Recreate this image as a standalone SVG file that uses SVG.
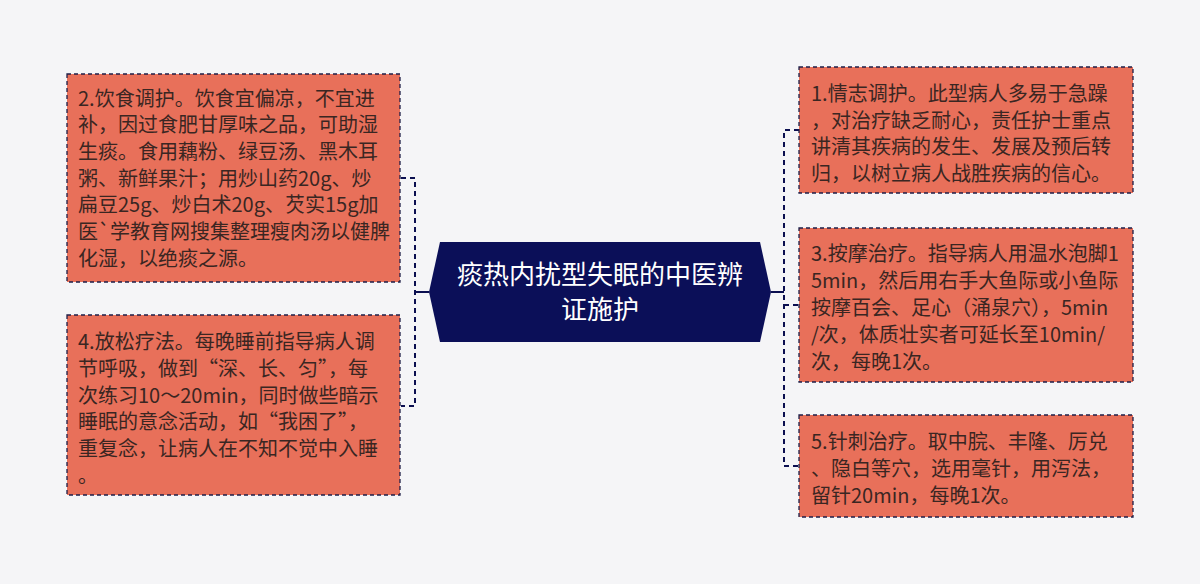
<svg xmlns="http://www.w3.org/2000/svg" width="1200" height="584" viewBox="0 0 1200 584">
<style>
.bg{fill:#f5f5f7}
.box{fill:#e8705a;stroke:#1e1e48;stroke-width:1.3;stroke-dasharray:4 3}
.t{font-family:"Noto Sans CJK SC","Noto Sans",sans-serif;font-size:20px;fill:#3a2622}
.ct{font-family:"Noto Sans CJK SC","Noto Sans",sans-serif;font-size:26px;fill:#ffffff}
.dash{fill:none;stroke:#0b0f50;stroke-width:2;stroke-dasharray:5 4}
.solid{fill:none;stroke:#0b0f50;stroke-width:2}
</style>
<rect class="bg" x="0" y="0" width="1200" height="584"/>
<g id="connectors">
<path class="dash" d="M401 178 H415 V406 H401"/>
<path class="solid" d="M415 292 H429"/>
<path class="dash" d="M799 130 H784 V466 H799"/>
<path class="dash" d="M784 305 H799"/>
<path class="solid" d="M771 292 H784"/>
</g>
<g id="center">
<polygon points="440,242 760,242 771,292 760,342 440,342 429,292" fill="#0b0f58"/>
<text class="ct" text-anchor="middle"><tspan x="600" y="284">痰热内扰型失眠的中医辨</tspan><tspan x="600" y="319">证施护</tspan></text>
</g>
<g id="node2">
<rect class="box" x="67" y="74" width="333" height="208"/>
<text class="t"><tspan x="78" y="105.5">2.饮食调护。饮食宜偏凉，不宜进</tspan><tspan x="78" y="132.2">补，因过食肥甘厚味之品，可助湿</tspan><tspan x="78" y="158.9">生痰。食用藕粉、绿豆汤、黑木耳</tspan><tspan x="78" y="185.6">粥、新鲜果汁；用炒山药20g、炒</tspan><tspan x="78" y="212.3">扁豆25g、炒白术20g、芡实15g加</tspan><tspan x="78" y="239">医`学教育网搜集整理瘦肉汤以健脾</tspan><tspan x="78" y="265.7">化湿，以绝痰之源。</tspan></text>
</g>
<g id="node4">
<rect class="box" x="67" y="315" width="333" height="180"/>
<text class="t"><tspan x="78" y="349.3">4.放松疗法。每晚睡前指导病人调</tspan><tspan x="78" y="376">节呼吸，做到“深、长、匀”，每</tspan><tspan x="78" y="402.7">次练习10～20min，同时做些暗示</tspan><tspan x="78" y="429.4">睡眠的意念活动，如“我困了”，</tspan><tspan x="78" y="456.1">重复念，让病人在不知不觉中入睡</tspan><tspan x="78" y="482.8">。</tspan></text>
</g>
<g id="node1">
<rect class="box" x="799" y="67" width="334" height="126"/>
<text class="t"><tspan x="811" y="101">1.情志调护。此型病人多易于急躁</tspan><tspan x="811" y="127.7">，对治疗缺乏耐心，责任护士重点</tspan><tspan x="811" y="154.4">讲清其疾病的发生、发展及预后转</tspan><tspan x="811" y="181.1">归，以树立病人战胜疾病的信心。</tspan></text>
</g>
<g id="node3">
<rect class="box" x="799" y="228" width="334" height="154"/>
<text class="t"><tspan x="811" y="261">3.按摩治疗。指导病人用温水泡脚1</tspan><tspan x="811" y="288">5min，然后用右手大鱼际或小鱼际</tspan><tspan x="811" y="315">按摩百会、足心（涌泉穴），5min</tspan><tspan x="811" y="342">/次，体质壮实者可延长至10min/</tspan><tspan x="811" y="369">次，每晚1次。</tspan></text>
</g>
<g id="node5">
<rect class="box" x="799" y="415" width="334" height="102"/>
<text class="t"><tspan x="811" y="449.3">5.针刺治疗。取中脘、丰隆、厉兑</tspan><tspan x="811" y="476">、隐白等穴，选用毫针，用泻法，</tspan><tspan x="811" y="502.7">留针20min，每晚1次。</tspan></text>
</g>
</svg>
